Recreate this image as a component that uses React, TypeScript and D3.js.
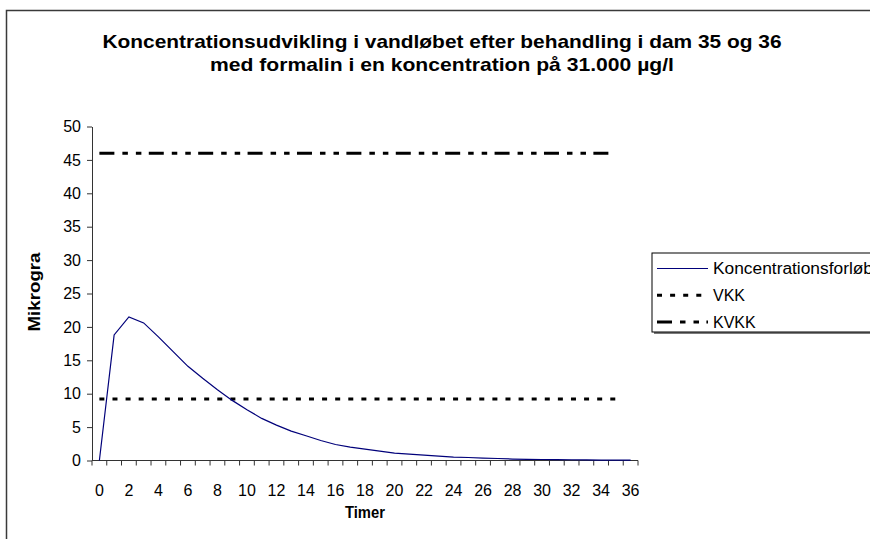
import { useEffect, useRef } from 'react';
import * as d3 from 'd3';

// hours after treatment (category axis)
const hours = d3.range(0, 37).map(String);

// measured concentration (µg/l)
const concentration = [
  0, 18.8, 21.5, 20.6, 18.5, 16.3, 14.1, 12.3, 10.6, 9.0, 7.6, 6.3, 5.3, 4.4, 3.7, 3.0,
  2.4, 2.0, 1.7, 1.4, 1.1, 0.95, 0.8, 0.65, 0.52, 0.45, 0.36, 0.3, 0.22, 0.18, 0.15, 0.13,
  0.11, 0.09, 0.07, 0.06, 0.05,
];

// limit values, drawn over hours 0..35
const vkk = 9.2;
const kvkk = 46;
const limitHours = hours.slice(0, 36);

const yTicks = [0, 5, 10, 15, 20, 25, 30, 35, 40, 45, 50];
const xLabels = hours.filter((h) => +h % 2 === 0);

const titleLines = [
  'Koncentrationsudvikling i vandløbet efter behandling i dam 35 og 36',
  'med formalin i en koncentration på 31.000 µg/l',
];
const legendItems = ['Koncentrationsforløb', 'VKK', 'KVKK'];

const font = "'Liberation Sans', Arial, sans-serif";
const W = 870;
const H = 539;
const plot = { left: 92, right: 638, top: 126.5, bottom: 460.5 };

const vkkDash = '5,8.1';
const kvkkDash = '15,8,5.5,8,5.5,7.4';

const App = () => {
  const ref = useRef<SVGSVGElement>(null);

  useEffect(() => {
    const svg = d3.select(ref.current);
    svg.selectAll('*').remove();

    const x = d3.scaleBand().domain(hours).range([plot.left, plot.right]).padding(0);
    const cx = (h: string) => (x(h) as number) + x.bandwidth() / 2;
    const y = d3.scaleLinear().domain([0, 50]).range([plot.bottom, plot.top]);

    svg.append('rect').attr('width', W).attr('height', H).attr('fill', 'white');

    // chart area border
    svg
      .append('rect')
      .attr('x', 6.5)
      .attr('y', 10.5)
      .attr('width', W + 20)
      .attr('height', H + 20)
      .attr('fill', 'none')
      .attr('stroke', '#3a3a3a')
      .attr('stroke-width', 1.5);

    // title
    svg
      .append('g')
      .selectAll('text')
      .data(titleLines)
      .enter()
      .append('text')
      .attr('x', 442)
      .attr('y', (d, i) => 48 + i * 22.5)
      .attr('text-anchor', 'middle')
      .attr('font-family', font)
      .attr('font-weight', 'bold')
      .attr('font-size', 19)
      .attr('textLength', (d, i) => (i === 0 ? 679 : 464))
      .attr('lengthAdjust', 'spacingAndGlyphs')
      .text((d) => d);

    // y axis
    const yAxis = d3
      .axisLeft(y)
      .tickValues(yTicks)
      .tickSize(5)
      .tickSizeOuter(0)
      .tickPadding(6);
    const gy = svg.append('g').attr('transform', `translate(${plot.left},0)`).call(yAxis);
    gy.selectAll('path,line').attr('stroke', '#333');
    gy.selectAll('text')
      .attr('font-family', font)
      .attr('font-size', 16)
      .attr('fill', 'black');

    // x axis: ticks between categories, labels every second hour
    const gx = svg.append('g');
    gx.append('line')
      .attr('x1', plot.left)
      .attr('x2', plot.right)
      .attr('y1', plot.bottom)
      .attr('y2', plot.bottom)
      .attr('stroke', '#333');
    const bounds = hours.map((h) => x(h) as number).concat([plot.right]);
    gx.selectAll('.tick')
      .data(bounds)
      .enter()
      .append('line')
      .attr('x1', (d) => d)
      .attr('x2', (d) => d)
      .attr('y1', plot.bottom)
      .attr('y2', plot.bottom + 5)
      .attr('stroke', '#333');
    gx.selectAll('.lbl')
      .data(xLabels)
      .enter()
      .append('text')
      .attr('x', (d) => cx(d))
      .attr('y', 495.5)
      .attr('text-anchor', 'middle')
      .attr('font-family', font)
      .attr('font-size', 16)
      .text((d) => d);

    // axis titles
    svg
      .append('text')
      .attr('x', (plot.left + plot.right) / 2)
      .attr('y', 518)
      .attr('text-anchor', 'middle')
      .attr('font-family', font)
      .attr('font-weight', 'bold')
      .attr('font-size', 16)
      .attr('textLength', 40)
      .attr('lengthAdjust', 'spacingAndGlyphs')
      .text('Timer');
    svg
      .append('text')
      .attr('transform', 'translate(40,292) rotate(-90)')
      .attr('text-anchor', 'middle')
      .attr('font-family', font)
      .attr('font-weight', 'bold')
      .attr('font-size', 16)
      .attr('textLength', 79)
      .attr('lengthAdjust', 'spacingAndGlyphs')
      .text('Mikrogra');

    // limit lines
    const limitLine = (v: number) =>
      d3
        .line<string>()
        .x((h) => cx(h))
        .y(() => y(v))(limitHours);
    svg
      .append('path')
      .attr('d', limitLine(kvkk))
      .attr('fill', 'none')
      .attr('stroke', 'black')
      .attr('stroke-width', 3)
      .attr('stroke-dasharray', kvkkDash);
    svg
      .append('path')
      .attr('d', limitLine(vkk))
      .attr('fill', 'none')
      .attr('stroke', 'black')
      .attr('stroke-width', 3)
      .attr('stroke-dasharray', vkkDash);

    // concentration series
    const line = d3
      .line<number>()
      .x((d, i) => cx(hours[i]))
      .y((d) => y(d));
    svg
      .append('path')
      .attr('d', line(concentration))
      .attr('fill', 'none')
      .attr('stroke', '#00007a')
      .attr('stroke-width', 1.2);

    // legend
    const lg = svg.append('g').attr('transform', 'translate(652,253)');
    lg.append('rect')
      .attr('x', 2)
      .attr('y', 2)
      .attr('width', 240)
      .attr('height', 79)
      .attr('fill', '#7a7a7a');
    lg.append('rect')
      .attr('x', 0)
      .attr('y', 0)
      .attr('width', 240)
      .attr('height', 79)
      .attr('fill', 'white')
      .attr('stroke', 'black')
      .attr('stroke-width', 1);
    const rows = lg
      .selectAll('.row')
      .data(legendItems)
      .enter()
      .append('g')
      .attr('transform', (d, i) => `translate(0,${15.5 + i * 26.7})`);
    rows
      .append('line')
      .attr('x1', 5)
      .attr('x2', 56)
      .attr('stroke', (d, i) => (i === 0 ? '#00007a' : 'black'))
      .attr('stroke-width', (d, i) => (i === 0 ? 1.2 : 3))
      .attr('stroke-dasharray', (d, i) => (i === 0 ? null : i === 1 ? vkkDash : kvkkDash));
    rows
      .append('text')
      .attr('x', 61)
      .attr('y', 5.8)
      .attr('font-family', font)
      .attr('font-size', 16)
      .attr('textLength', (d, i) => (i === 0 ? 160 : null))
      .attr('lengthAdjust', 'spacingAndGlyphs')
      .text((d) => d);
  }, []);

  return (
    <svg
      ref={ref}
      width={W}
      height={H}
      style={{ position: 'absolute', left: 0, top: 0, display: 'block' }}
    />
  );
};

export default App;
